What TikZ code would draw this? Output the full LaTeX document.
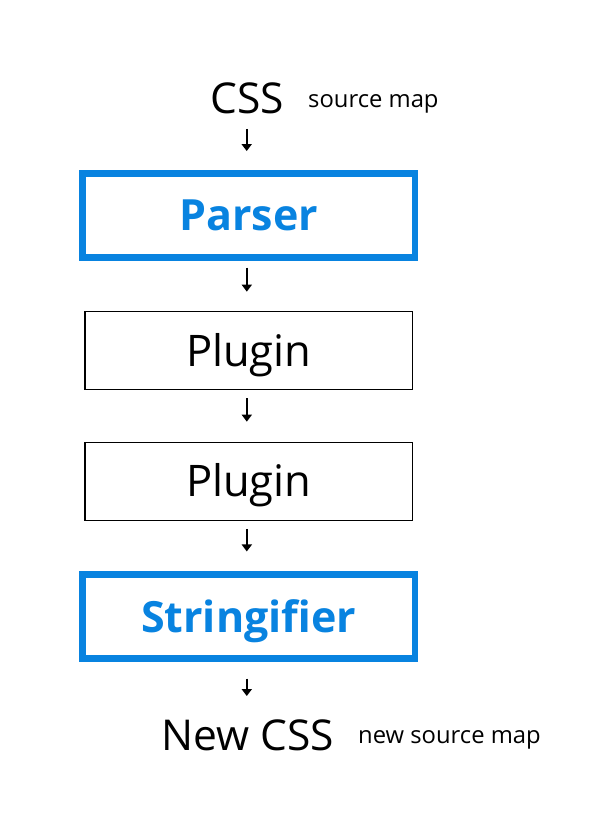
\documentclass[tikz,border=0pt]{standalone}
\usepackage{fontspec}
\setmainfont{Open Sans}
\usetikzlibrary{arrows.meta}
\definecolor{pblue}{RGB}{8,131,224}
\begin{document}
\begin{tikzpicture}[x=1pt,y=-1pt,
  bluebox/.style={draw=pblue,line width=6.5pt,minimum width=332.5pt,minimum height=84pt,inner sep=0pt,
    text=pblue,font=\fontsize{43}{43}\selectfont\bfseries,text height=31pt,text depth=0pt},
  plainbox/.style={draw=black,line width=1.3pt,minimum width=327.7pt,minimum height=78pt,inner sep=0pt,
    font=\fontsize{43.5}{43.5}\selectfont,text height=31pt,text depth=0pt},
  bigtxt/.style={inner sep=0pt,font=\fontsize{42.5}{42.5}\selectfont,anchor=base},
  smalltxt/.style={inner sep=0pt,font=\fontsize{23.8}{23.8}\selectfont,anchor=base west},
  arr/.style={line width=1.8pt,-{Triangle[length=7pt,width=10pt]}}
]
\useasboundingbox (0,0) rectangle (591,836);
\node[bigtxt] (css) at (247.5,113.3) {CSS};
\node[smalltxt] (srcmap) at (308,107) {source map};
\node[bluebox] (parser) at (248.8,215.3) {Parser};
\node[plainbox] (plugin1) at (248.8,350.7) {Plugin};
\node[plainbox] (plugin2) at (248.8,481.3) {Plugin};
\node[bluebox] (string) at (248.8,616.7) {Stringifier};
\node[bigtxt] (newcss) at (247.5,750.7) {New CSS};
\node[smalltxt] (newmap) at (358,743) {new source map};

\draw[arr,shorten <=15pt,shorten >=19pt] ([xshift=-0.8pt]css.south) -- ([xshift=-0.8pt]css.south |- parser.north);
\draw[arr,shorten <=7pt,shorten >=19.4pt] ([xshift=-2pt]parser.south) -- ([xshift=-2pt]plugin1.north);
\draw[arr,shorten <=7.7pt,shorten >=20pt] ([xshift=-2pt]plugin1.south) -- ([xshift=-2pt]plugin2.north);
\draw[arr,shorten <=8pt,shorten >=20pt] ([xshift=-2pt]plugin2.south) -- ([xshift=-2pt]string.north);
\draw[arr,shorten <=16.6pt,shorten >=23.7pt] ([xshift=-2pt]string.south) -- ([xshift=-2pt]string.south |- newcss.north);
\end{tikzpicture}
\end{document}
